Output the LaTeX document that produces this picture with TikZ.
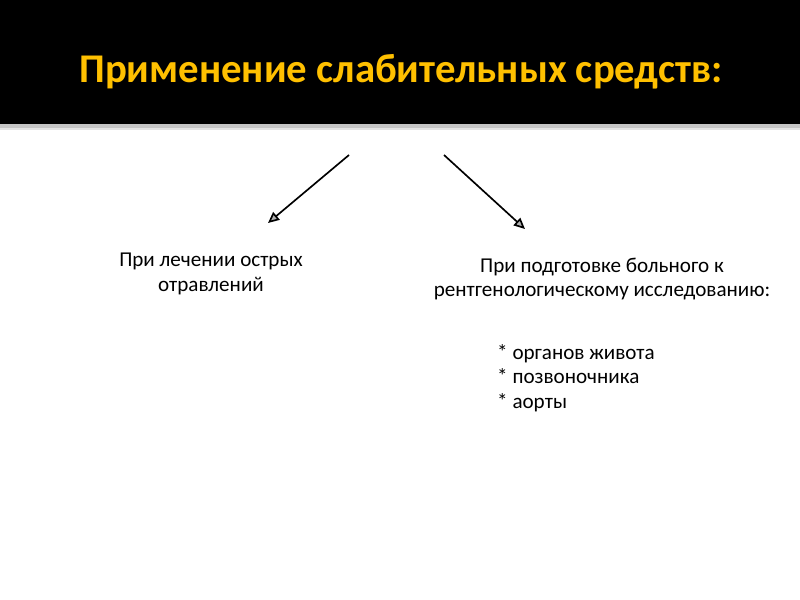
\documentclass[tikz,border=0pt]{standalone}
\usepackage{fontspec}
\setmainfont{Carlito}
\usetikzlibrary{arrows.meta}
\definecolor{titleyellow}{HTML}{FFC000}
\tikzset{
  body/.style={font=\fontsize{19}{22}\selectfont, align=center, inner sep=0pt},
  listtext/.style={font=\fontsize{19}{22}\selectfont, align=left, anchor=north west, inner sep=0pt},
  conn/.style={line width=1.5pt, -{Triangle[open, length=10pt, width=9pt, fill=gray!60]}}
}
\begin{document}
\begin{tikzpicture}[x=0.9pt,y=-0.9pt]
\useasboundingbox (0,0) rectangle (800,600);
\fill[black] (0,0) rectangle (800,124);
\fill[gray!45] (0,124) rectangle (800,130);
\fill[gray!20] (0,128) rectangle (800,130);
\node[font=\fontsize{36.7}{42}\selectfont\bfseries, text=titleyellow, inner sep=0pt] (title) at (401,72) {Применение слабительных средств:};
\coordinate (s1) at (349,155);
\coordinate (s2) at (444,155);
\coordinate (e1) at (268,223);
\coordinate (e2) at (525,229);
\draw[conn] (s1) -- (e1);
\draw[conn] (s2) -- (e2);
\node[body] (left) at (211,274) {При лечении острых\\отравлений};
\node[body] (right) at (602,279) {При подготовке больного к\\рентгенологическому исследованию:};
\node[listtext] (list) at (497,344) {* органов живота\\* позвоночника\\* аорты};
\end{tikzpicture}
\end{document}
